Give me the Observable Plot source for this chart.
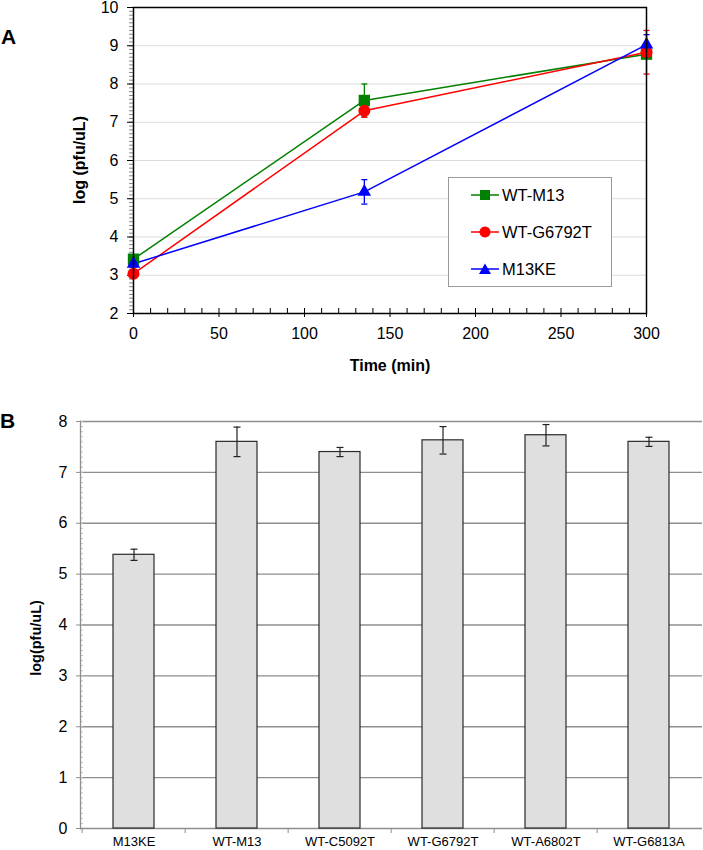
<!DOCTYPE html>
<html><head><meta charset="utf-8">
<script src="https://cdn.jsdelivr.net/npm/d3@7"></script>
<script src="https://cdn.jsdelivr.net/npm/@observablehq/plot@0.6"></script>
<style>
body{margin:0;width:703px;height:850px;position:relative;background:#fff;font-family:"Liberation Sans",Arial,sans-serif;overflow:hidden}
#a,#b{position:absolute;left:0}
#a{top:0}
#b{top:400px}
.panel{position:absolute;font-weight:bold;font-size:21px;line-height:1}
.ylab{position:absolute;font-weight:bold;white-space:nowrap;transform:translate(-50%,-50%) rotate(-90deg)}
.xlab{position:absolute;font-weight:bold;white-space:nowrap;transform:translate(-50%,-50%)}
#legend{position:absolute;left:448px;top:177px;width:164px;height:110px;border:1px solid #9a9a9a;background:#fff;box-sizing:border-box}
.entry{position:absolute;left:0;height:20px;display:flex;align-items:center;font-size:16.5px}
.entry svg{margin-left:21px}
</style></head><body>
<div id="a"></div>
<div id="b"></div>
<div class="panel" style="left:1px;top:26px">A</div>
<div class="panel" style="left:0px;top:410px">B</div>
<div class="ylab" style="left:80px;top:160px;font-size:16px">log (pfu/uL)</div>
<div class="xlab" style="left:390px;top:366px;font-size:16px">Time (min)</div>
<div class="ylab" style="left:36px;top:638px;font-size:14.5px">log(pfu/uL)</div>
<div id="legend"></div>
<script>
// ---- Panel A data ----
const times = [0, 135, 300];
const seriesNames = ["WT-M13", "WT-G6792T", "M13KE"];
const seriesColors = ["#008000", "#ff0000", "#0000ff"];
const seriesSymbols = ["square", "circle", "triangle"];
const wtM13 = [3.42, 7.57, 8.78];
const wtM13Err = [0.08, 0.43, 0.10];
const wtG6792T = [3.04, 7.30, 8.83];
const wtG6792TErr = [0.08, 0.17, 0.57];
const m13KE = [3.30, 5.18, 9.03];
const m13KEErr = [0.08, 0.32, 0.26];
const xTicksA = [0, 50, 100, 150, 200, 250, 300];
const yTicksA = [2, 3, 4, 5, 6, 7, 8, 9, 10];

// ---- Panel B data ----
const strains = ["M13KE", "WT-M13", "WT-C5092T", "WT-G6792T", "WT-A6802T", "WT-G6813A"];
const titers = [5.38, 7.60, 7.40, 7.63, 7.73, 7.60];
const titerErr = [0.11, 0.29, 0.09, 0.27, 0.21, 0.09];
const yTicksB = [0, 1, 2, 3, 4, 5, 6, 7, 8];

const font = "Liberation Sans, Arial, sans-serif";
const fmt = d3.format("d");
const capSymbol = {draw(ctx, size) { const r = Math.sqrt(size / Math.PI); ctx.moveTo(-r, 0); ctx.lineTo(r, 0); }};

const values = [wtM13, wtG6792T, m13KE];
const errs = [wtM13Err, wtG6792TErr, m13KEErr];
const lineData = [];
seriesNames.forEach((s, i) => times.forEach((t, j) => lineData.push({series: s, time: t, value: values[i][j], err: errs[i][j]})));
const markerR = {"WT-M13": 6.4, "WT-G6792T": 6, "M13KE": 5};

const A = Plot.plot({
  width: 703, height: 375,
  marginLeft: 133, marginRight: 57, marginTop: 7, marginBottom: 62,
  style: {fontFamily: font, fontSize: "16px", color: "#000", background: "transparent"},
  x: {domain: [0, 300]},
  y: {domain: [2, 10]},
  color: {domain: seriesNames, range: seriesColors},
  marks: [
    Plot.gridY(d3.range(3, 10), {stroke: "#dcdcdc", strokeOpacity: 1}),
    Plot.axisY(d3.range(20, 101).map(d => d / 10), {tickSize: 4, tickFormat: () => "", stroke: "#888", label: null}),
    Plot.axisY(yTicksA, {tickSize: 6, tickPadding: 9, fontSize: 16, tickFormat: fmt, label: null}),
    Plot.axisX(d3.range(0, 301, 10), {tickSize: -5, tickFormat: () => "", label: null}),
    Plot.axisX(xTicksA, {tickSize: 4, tickPadding: 10, fontSize: 16, tickFormat: fmt, label: null}),
    Plot.line(lineData, {x: "time", y: "value", z: "series", stroke: "series", strokeWidth: 1.5}),
    Plot.ruleX(lineData, {x: "time", y1: d => d.value - d.err, y2: d => d.value + d.err, stroke: "series", strokeWidth: 1.3}),
    Plot.dot(lineData, {x: "time", y: d => d.value + d.err, symbol: capSymbol, r: 3, stroke: "series", strokeWidth: 1.3}),
    Plot.dot(lineData, {x: "time", y: d => d.value - d.err, symbol: capSymbol, r: 3, stroke: "series", strokeWidth: 1.3}),
    ...seriesNames.map((s, i) => Plot.dot(lineData.filter(d => d.series === s), {x: "time", y: "value", symbol: seriesSymbols[i], fill: seriesColors[i], r: markerR[s]})),
    Plot.frame({stroke: "#000", strokeWidth: 1.5})
  ]
});
document.getElementById("a").append(A);

// legend
const legend = document.getElementById("legend");
const symPaths = {
  square: "M9,2h10v10h-10z",
  circle: "M14,1.5a5.5,5.5 0 1,0 0.01,0z",
  triangle: "M14,1.5l6,10.5h-12z"
};
seriesNames.forEach((s, i) => {
  const row = document.createElement("div");
  row.className = "entry";
  row.style.top = (7 + i * 37) + "px";
  row.innerHTML = `<svg width="30" height="14" viewBox="0 0 28 14"><line x1="0" x2="28" y1="7" y2="7" stroke="${seriesColors[i]}" stroke-width="1.5"/><path d="${symPaths[seriesSymbols[i]]}" fill="${seriesColors[i]}"/></svg><span style="margin-left:2px">${s}</span>`;
  legend.append(row);
});

// ---- Panel B ----
const barData = strains.map((s, i) => ({strain: s, titer: titers[i], err: titerErr[i]}));
const stepB = (703 - 80 - 1) / strains.length;
const B = Plot.plot({
  width: 703, height: 450,
  marginLeft: 80, marginRight: 1, marginTop: 21, marginBottom: 22,
  style: {fontFamily: font, fontSize: "16px", color: "#000", background: "transparent"},
  x: {domain: strains, paddingInner: 0.6, paddingOuter: 0.3},
  y: {domain: [0, 8]},
  marks: [
    Plot.gridY(d3.range(1, 9), {stroke: "#8e8e8e", strokeOpacity: 1, strokeWidth: 1.3}),
    Plot.axisY(d3.range(0, 81).map(d => d / 10), {tickSize: -3, tickFormat: () => "", stroke: "#c4c4c4", label: null}),
    Plot.axisY(yTicksB, {tickSize: 4, tickPadding: 9, stroke: "#8e8e8e", fontSize: 16, tickFormat: fmt, label: null}),
    Plot.ruleY([0], {stroke: "#8e8e8e", strokeWidth: 1.3}),
    Plot.frame({anchor: "left", stroke: "#8e8e8e", strokeWidth: 1.3}),
    Plot.axisX(strains, {tickSize: 5, tickFormat: () => "", dx: -stepB / 2, stroke: "#8e8e8e", label: null}),
    Plot.axisX(strains, {tickSize: 0, tickPadding: 8, fontSize: 13, label: null}),
    Plot.barY(barData, {x: "strain", y: "titer", fill: "#dfdfdf", stroke: "#2a2a2a", strokeWidth: 1.2}),
    Plot.ruleX(barData, {x: "strain", y1: d => d.titer - d.err, y2: d => d.titer + d.err, stroke: "#222", strokeWidth: 1.2}),
    Plot.dot(barData, {x: "strain", y: d => d.titer + d.err, symbol: capSymbol, r: 3.5, stroke: "#222", strokeWidth: 1.2}),
    Plot.dot(barData, {x: "strain", y: d => d.titer - d.err, symbol: capSymbol, r: 3.5, stroke: "#222", strokeWidth: 1.2})
  ]
});
document.getElementById("b").append(B);
</script>
</body></html>
